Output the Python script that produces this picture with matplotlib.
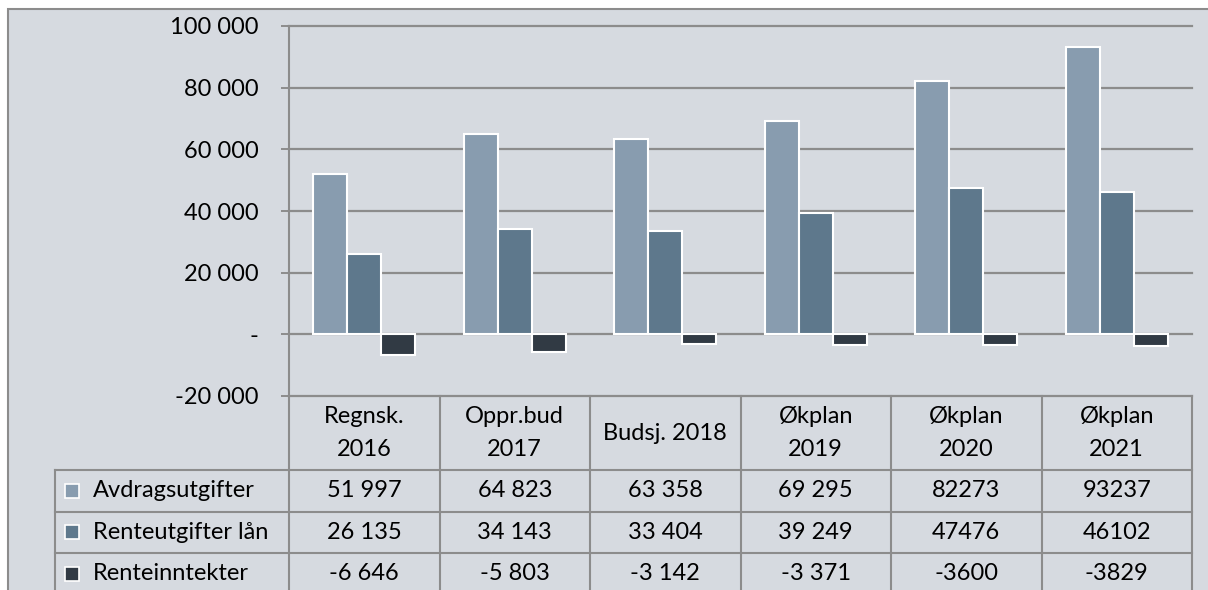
import matplotlib
matplotlib.use("Agg")
import matplotlib.pyplot as plt
import numpy as np
from matplotlib.patches import Rectangle
from matplotlib.lines import Line2D
from matplotlib.transforms import blended_transform_factory

# ---- data ----
categories = ["Regnsk.\n2016", "Oppr.bud\n2017", "Budsj. 2018",
              "Økplan\n2019", "Økplan\n2020", "Økplan\n2021"]
series_names = ["Avdragsutgifter", "Renteutgifter lån", "Renteinntekter"]
avdrag = [51997, 64823, 63358, 69295, 82273, 93237]
renteutg = [26135, 34143, 33404, 39249, 47476, 46102]
renteinnt = [-6646, -5803, -3142, -3371, -3600, -3829]
thousand_space = [True, True, True, True, False, False]
yticks = [-20000, 0, 20000, 40000, 60000, 80000, 100000]
ytick_labels = ["-20 000", "-", "20 000", "40 000", "60 000", "80 000", "100 000"]

colors = ["#889CAF", "#5E788C", "#313A44"]
bg = "#D6DAE0"
grid_c = "#8C8C8C"
FONT = "Lato"
FS = 17

W, H = 1208, 590
fig = plt.figure(figsize=(W / 100, H / 100), dpi=100)
fig.patch.set_facecolor("white")

# overlay axes in pixel coordinates
ax0 = fig.add_axes([0, 0, 1, 1], zorder=0)
ax0.set_xlim(0, W)
ax0.set_ylim(H, 0)
ax0.axis("off")
ax0.add_patch(Rectangle((8, 9), 1400, 800, facecolor=bg, edgecolor=grid_c, lw=1.5))

# plot axes
x0, x1, ytop, ybot = 289, 1192, 26, 396
ax = fig.add_axes([x0 / W, 1 - ybot / H, (x1 - x0) / W, (ybot - ytop) / H], zorder=1)
ax.set_facecolor("none")
ax.set_xlim(-0.5, len(categories) - 0.5)
ax.set_ylim(-20000, 100000)

data = [avdrag, renteutg, renteinnt]
x = np.arange(len(categories))
bw = 0.226
for i, (vals, c) in enumerate(zip(data, colors)):
    ax.bar(x + (i - 1) * bw, vals, width=bw, color=c, edgecolor="white",
           linewidth=1.5, zorder=3)

ax.set_yticks(yticks)
ax.set_yticklabels(ytick_labels, fontfamily=FONT, fontsize=FS)
ax.tick_params(axis="y", length=6, width=1.4, color=grid_c, pad=16)
ax.set_xticks([])
for y in yticks:
    ax.axhline(y, color=grid_c, lw=1.6, zorder=1, clip_on=False)
for s in ["top", "right", "bottom"]:
    ax.spines[s].set_visible(False)
ax.spines["left"].set_color(grid_c)
ax.spines["left"].set_linewidth(1.5)

# ---- data table ----
tr = blended_transform_factory(ax.transData, ax0.transData)
row_edges = [396, 470, 511.5, 553, 595]
lc = dict(color=grid_c, lw=1.5, clip_on=False)
# vertical column lines
for k in range(len(categories) + 1):
    xe = k - 0.5
    ax0.add_line(Line2D([xe, xe], [row_edges[0], row_edges[-1]], transform=tr, **lc))
# horizontal lines
for r in row_edges[1:]:
    ax0.add_line(Line2D([55, x1], [r, r], **lc))
ax0.add_line(Line2D([55, 55], [row_edges[1], row_edges[-1]], **lc))

# header
for k, cat in enumerate(categories):
    ax0.text(k, (row_edges[0] + row_edges[1]) / 2, cat, transform=tr,
             ha="center", va="center", fontfamily=FONT, fontsize=FS,
             linespacing=1.75, color="black")


def fmt(v, sep):
    s = f"{abs(v):,}".replace(",", " ") if sep else f"{abs(v)}"
    return ("-" if v < 0 else "") + s


for r, (name, vals, c) in enumerate(zip(series_names, data, colors)):
    yc = (row_edges[r + 1] + row_edges[r + 2]) / 2
    ax0.add_patch(Rectangle((65, yc - 7), 14, 14, facecolor=c, edgecolor="white", lw=1.2))
    ax0.text(93, yc, name, ha="left", va="center", fontfamily=FONT,
             fontsize=FS, color="black")
    for k, v in enumerate(vals):
        ax0.text(k, yc, fmt(v, thousand_space[k]), transform=tr, ha="center",
                 va="center", fontfamily=FONT, fontsize=FS, color="black")

fig.savefig("out.png", dpi=100, facecolor=fig.get_facecolor())
